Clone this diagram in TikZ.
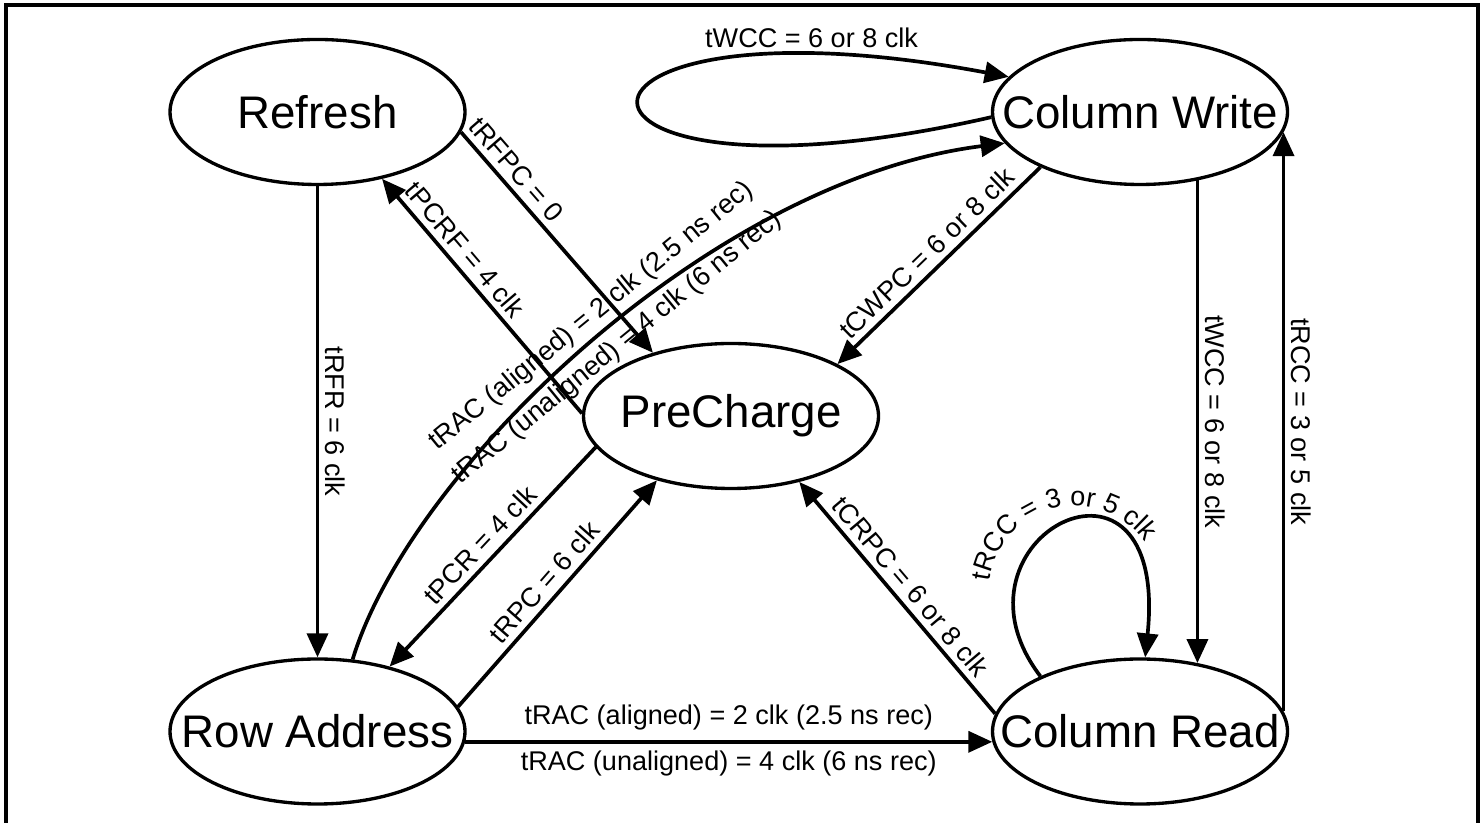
\documentclass[tikz,border=0pt]{standalone}
\usepackage{fontspec}
\setmainfont{Liberation Sans}
\usetikzlibrary{arrows.meta,shapes.geometric,decorations.text}
\newcommand{\stname}[1]{\makebox[0pt]{#1}}
\tikzset{
	state/.style={ellipse, draw, line width=1.9pt, minimum width=5.9cm, minimum height=2.9cm, inner sep=0pt, font=\fontsize{26}{28}\selectfont},
	trans/.style={line width=2.1pt, -{Triangle[length=0.48cm, width=0.42cm]}}
}

\begin{document}
\begin{tikzpicture}[font=\fontsize{15.4}{18}\selectfont]
	%%%%% START %%%%%
	\useasboundingbox (0, 0) rectangle (29.68, 16.46);
	\draw[line width=2pt] (0.12, -0.2) -- (0.12, 16.36) -- (29.56, 16.36) -- (29.56, -0.2);
	
	\node[state] (refresh) at (6.35, 14.22) {\stname{Refresh}};
	\node[state] (colwrite) at (22.8, 14.22) {\stname{Column Write}};
	\node[state] (precharge) at (14.62, 8.14) {\stname{PreCharge}};
	\node[state] (rowaddr) at (6.35, 1.83) {\stname{Row Address}};
	\node[state] (colread) at (22.8, 1.83) {\stname{Column Read}};
	
	\draw[trans] (refresh.south) -- (rowaddr.north) node[midway, rotate=-90, anchor=south] {tRFR = 6 clk};
	\draw[trans] (refresh.-8) -- (precharge.141) node[pos=0.22, sloped, above] {tRFPC = 0};
	\draw[trans] (precharge.179) -- (refresh.-46) node[pos=0.65, sloped, above] {tPCRF = 4 clk};
	
	\draw[trans] (rowaddr.64) .. controls (8.2, 7.06) and (14.22, 12.86) .. (colwrite.193)
		node[pos=0.52, sloped, above] {tRAC (aligned) = 2 clk (2.5 ns rec)}
		node[pos=0.52, sloped, below] {tRAC (unaligned) = 4 clk (6 ns rec)};
	
	\draw[trans] (colwrite.182) .. controls (10.4, 11.96) and (10.4, 16.76) .. (colwrite.165)
		node[pos=0.84, above] {tWCC = 6 or 8 clk};
	
	\draw[trans] (colwrite.209) -- (precharge.26) node[midway, sloped, above] {tCWPC = 6 or 8 clk};
	\draw[trans] (rowaddr.10) -- (precharge.221) node[midway, sloped, above] {tRPC = 6 clk};
	\draw[trans] (precharge.193) -- (rowaddr.42) node[midway, sloped, above] {tPCR = 4 clk};
	\draw[trans] (colread.173) -- (precharge.-44) node[midway, sloped, above] {tCRPC = 6 or 8 clk};
	
	\draw[trans] (colwrite.-50) -- (colread.50) node[midway, rotate=-90, anchor=south] {tWCC = 6 or 8 clk};
	\draw[trans] (colread.8) -- (colwrite.-8) node[midway, rotate=-90, anchor=south] {tRCC = 3 or 5 clk};
	
	\draw[trans] (colread.151) .. controls (18.7, 5.7) and (23.4, 8.1) .. (colread.86);
	\path[decorate, decoration={text along path, text align=center, text={|\fontsize{15.4}{18}\selectfont|tRCC = 3 or 5 clk}}]
		(21.5, 4.62) ++(176:1.72) arc[start angle=176, end angle=32, radius=1.72];
	
	\draw[trans] (rowaddr.-4) -- (colread.184)
		node[midway, above=2pt] {tRAC (aligned) = 2 clk (2.5 ns rec)}
		node[midway, below=1pt] {tRAC (unaligned) = 4 clk (6 ns rec)};
	%%%%% END %%%%%
\end{tikzpicture}
\end{document}
